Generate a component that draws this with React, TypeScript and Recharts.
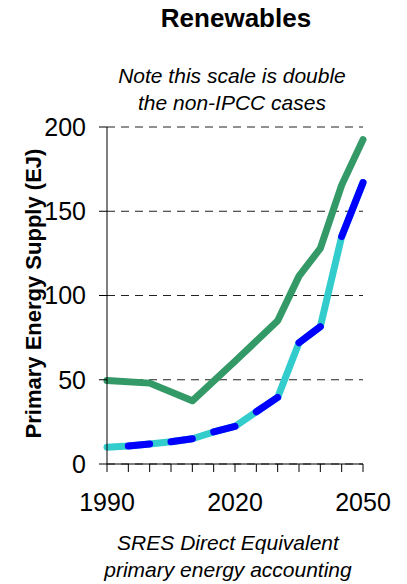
import React from 'react';
import { LineChart, Line, XAxis, YAxis, CartesianGrid } from 'recharts';

// Years on the x axis (one tick every 5 years)
const years = [1990, 1995, 2000, 2005, 2010, 2015, 2020, 2025, 2030, 2035, 2040, 2045, 2050];
const xLabelYears = [1990, 2020, 2050];
const yTicks = [0, 50, 100, 150, 200];

// Green scenario (null = no point, line is joined across)
const greenValues = [49.5, null, 48, null, 37.5, null, 61, null, 85, 111.5, 128, 165.5, 192.5];
// Cyan / blue scenario (drawn as one line, blue on every other 5-year segment)
const cyanValues = [10, 10.7, 11.9, 13.2, 15, 19, 22.3, 31, 39.5, 72, 81.5, 135, 167];
const blueSegmentStarts = [1995, 2005, 2015, 2025, 2035, 2045];

const data = years.map((year, i) => {
  const row: Record<string, number | null> = { year, green: greenValues[i], cyan: cyanValues[i] };
  blueSegmentStarts.forEach((start, k) => {
    row['blue' + k] = year === start || year === start + 5 ? cyanValues[i] : null;
  });
  return row;
});

const FONT = '"Liberation Sans", Arial, Helvetica, sans-serif';

const App: React.FC = () => {
  return (
    <div style={{ position: 'absolute', left: 0, top: 0, width: 407, height: 584, fontFamily: FONT, color: '#000', background: '#fff' }}>
      <div style={{ position: 'absolute', left: 86, top: 2.5, width: 300, textAlign: 'center', fontSize: 26, fontWeight: 'bold', lineHeight: 'normal' }}>
        Renewables
      </div>
      <div style={{ position: 'absolute', left: 82, top: 62, width: 300, textAlign: 'center', fontSize: 21, fontStyle: 'italic', lineHeight: '27px' }}>
        Note this scale is double
        <br />
        the non-IPCC cases
      </div>

      <LineChart
        width={407}
        height={584}
        data={data}
        margin={{ top: 127, right: 44, bottom: 80, left: 7 }}
      >
        <CartesianGrid vertical={false} stroke="#222" strokeDasharray="8 6" />
        <XAxis
          type="number"
          dataKey="year"
          domain={[1990, 2050]}
          ticks={years}
          interval={0}
          height={40}
          tickSize={8}
          tickMargin={21}
          axisLine={{ stroke: '#000' }}
          tickLine={{ stroke: '#000' }}
          tick={{ fill: '#000', fontSize: 25, fontFamily: FONT }}
          tickFormatter={(v: number) => (xLabelYears.includes(v) ? String(v) : '')}
        />
        <YAxis
          domain={[0, 200]}
          ticks={yTicks}
          interval={0}
          width={100}
          tickSize={8}
          tickMargin={13}
          axisLine={{ stroke: '#000' }}
          tickLine={{ stroke: '#000' }}
          tick={{ fill: '#000', fontSize: 25, fontFamily: FONT }}
        />
        <Line
          dataKey="green"
          stroke="#339966"
          strokeWidth={7}
          strokeLinecap="round"
          strokeLinejoin="round"
          dot={false}
          connectNulls
          isAnimationActive={false}
        />
        <Line
          dataKey="cyan"
          stroke="#33CCCC"
          strokeWidth={7}
          strokeLinecap="round"
          strokeLinejoin="round"
          dot={false}
          isAnimationActive={false}
        />
        {blueSegmentStarts.map((start, k) => (
          <Line
            key={start}
            dataKey={'blue' + k}
            stroke="#0000FF"
            strokeWidth={7}
            strokeLinecap="round"
            strokeLinejoin="round"
            dot={false}
            connectNulls={false}
            isAnimationActive={false}
          />
        ))}
      </LineChart>

      <div
        style={{
          position: 'absolute',
          left: 33 - 200,
          top: 293 - 12.5,
          width: 400,
          height: 25,
          textAlign: 'center',
          fontSize: 22,
          fontWeight: 'bold',
          lineHeight: '25px',
          transform: 'rotate(-90deg)',
          transformOrigin: 'center center',
          whiteSpace: 'nowrap',
        }}
      >
        Primary Energy Supply (EJ)
      </div>

      <div style={{ position: 'absolute', left: 78, top: 529, width: 300, textAlign: 'center', fontSize: 21, fontStyle: 'italic', lineHeight: '27px' }}>
        SRES Direct Equivalent
        <br />
        primary energy accounting
      </div>
    </div>
  );
};

export default App;
